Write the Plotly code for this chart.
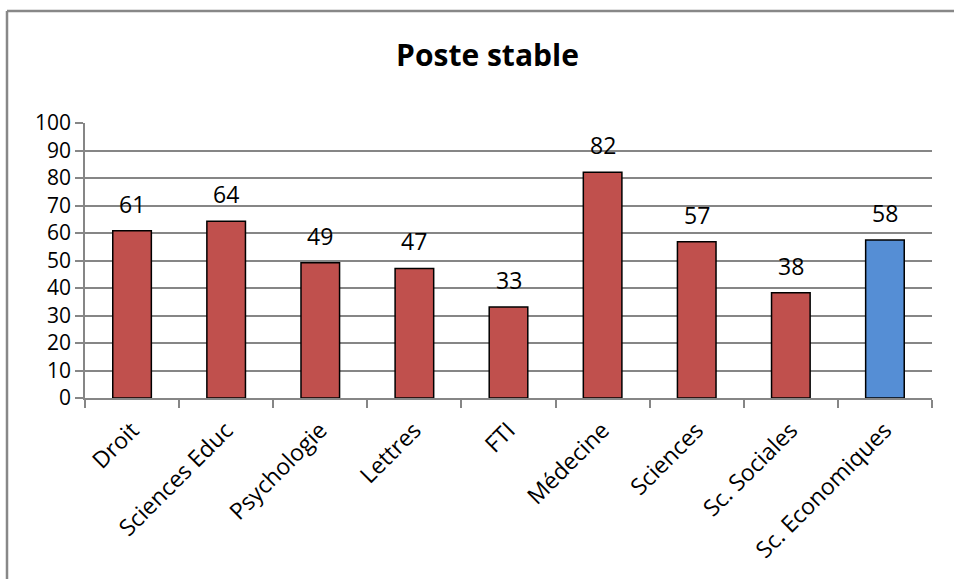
import plotly.graph_objects as go

categories = ["Droit", "Sciences Educ", "Psychologie", "Lettres", "FTI",
              "Médecine", "Sciences", "Sc. Sociales", "Sc. Economiques"]
values = [60.8, 64.3, 49.2, 47.1, 33.1, 82.1, 56.8, 38.3, 57.5]
bar_colors = ["#C0504D"] * 8 + ["#558ED5"]

FONT = "Open Sans"

fig = go.Figure()
fig.add_trace(go.Bar(
    x=categories, y=values,
    marker=dict(color=bar_colors, line=dict(color="#000000", width=1.5)),
    width=0.41,
    hoverinfo="skip",
))

annotations = []
for c, v in zip(categories, values):
    annotations.append(dict(
        x=c, y=v, xref="x", yref="y", text=f"{v:.0f}", showarrow=False,
        yanchor="middle", yshift=27,
        font=dict(family=FONT, size=23, color="#000000"),
    ))

fig.update_layout(
    width=954, height=579,
    margin=dict(l=85, r=22, t=123, b=181),
    paper_bgcolor="#FFFFFF", plot_bgcolor="#FFFFFF",
    showlegend=False,
    title=dict(text="<b>Poste stable</b>", x=0.511, xanchor="center",
               y=1 - 55 / 579, yanchor="middle",
               font=dict(family=FONT, size=30, color="#000000")),
    annotations=annotations,
    shapes=[
        dict(type="line", xref="paper", yref="paper",
             x0=(7 - 85) / 847, x1=1.2, y0=(398 - 11) / 275, y1=(398 - 11) / 275,
             line=dict(color="#888888", width=2.5)),
        dict(type="line", xref="paper", yref="paper",
             x0=(7 - 85) / 847, x1=(7 - 85) / 847, y0=(398 - 11) / 275, y1=-1,
             line=dict(color="#888888", width=2.5)),
    ],
    xaxis=dict(
        tickangle=-45, tickson="boundaries", ticks="outside", ticklen=8,
        tickcolor="#868686", tickwidth=1.5,
        showline=True, linecolor="#868686", linewidth=1.5,
        showgrid=False, ticklabelstandoff=8,
        tickfont=dict(family=FONT, size=23, color="#000000"),
    ),
    yaxis=dict(
        range=[0, 100], dtick=10, tick0=0,
        ticks="outside", ticklen=8, tickcolor="#868686", tickwidth=1.5,
        showline=True, linecolor="#868686", linewidth=1.5,
        showgrid=True, gridcolor="#868686", gridwidth=1.5,
        zeroline=False,
        tickfont=dict(family=FONT, size=21, color="#000000"),
    ),
)

fig.write_html("out.html", config={"displayModeBar": False},
               post_script="document.body.style.margin='0px';")
